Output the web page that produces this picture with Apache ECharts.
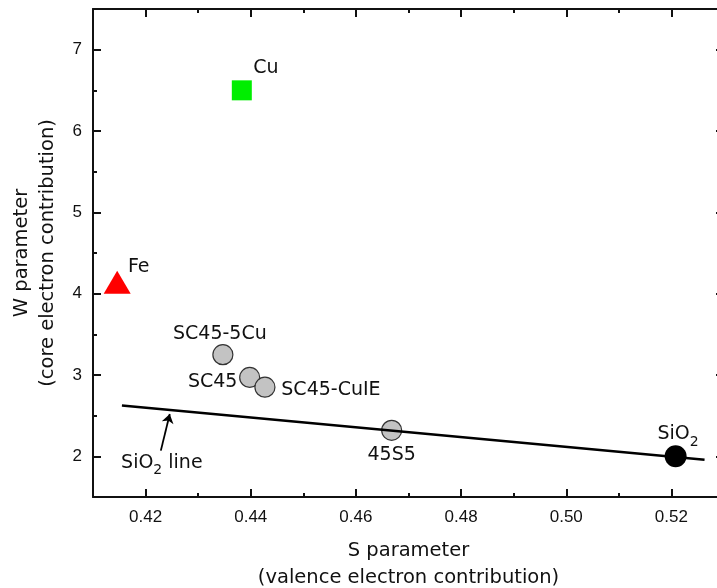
<!DOCTYPE html>
<html><head><meta charset="utf-8">
<script src="https://cdn.jsdelivr.net/npm/echarts@6/dist/echarts.min.js"></script>
<style>html,body{margin:0;padding:0;background:#fff}#c{width:717px;height:588px}</style>
</head><body><div id="c"></div>
<script>
// ---- data ----
const xRange = [0.41, 0.53];
const yRange = [1.5, 7.5];
const xMinorStep = 0.01;
const yMinorStep = 0.5;
const cuPoint = [0.4383, 6.50];
const fePoint = [0.4146, 4.14];
const glassNames = ['SC45-5Cu', 'SC45', 'SC45-CuIE', '45S5'];
const glassS = [0.4347, 0.4398, 0.4427, 0.4668];
const glassW = [3.25, 2.97, 2.85, 2.32];
const sio2Point = [0.5208, 2.00];
const sio2LineS = [0.4155, 0.5263];
const sio2LineW = [2.625, 1.957];
const arrowS = [0.4229, 0.4246];
const arrowW = [2.07, 2.52];

// ---- styling ----
const FONT = 'DejaVu Sans';
const TICKFONT = 'Liberation Sans';
const INK = '#111';
const glassLabelOffsets = {
  'SC45-5Cu': [-3, -21],
  'SC45': [-37, 5],
  'SC45-CuIE': [66, 2.5],
  '45S5': [0, 25]
};

function axisBase(extra) {
  return Object.assign({
    type: 'value', gridIndex: 0,
    splitLine: { show: false },
    axisLine: { show: true, onZero: false, lineStyle: { color: INK, width: 2 } },
    axisTick: { show: true, inside: true, length: 8, lineStyle: { color: INK, width: 2 } },
    axisLabel: { show: false }
  }, extra);
}
const xMajorLabel = {
  show: true, margin: 12, fontSize: 17, fontFamily: TICKFONT, color: INK,
  showMinLabel: false, showMaxLabel: false,
  formatter: v => v.toFixed(2)
};
const yMajorLabel = {
  show: true, margin: 11, fontSize: 17, fontFamily: TICKFONT, color: INK,
  showMinLabel: false, showMaxLabel: false,
  formatter: v => String(Math.round(v))
};
const minorTick = { show: true, inside: true, length: 4, lineStyle: { color: INK, width: 2 } };

const xAxes = [
  axisBase({ position: 'bottom', min: xRange[0], max: xRange[1], axisLabel: xMajorLabel,
    name: 'S parameter\n(valence electron contribution)', nameLocation: 'middle', nameGap: 40,
    nameTextStyle: { fontSize: 19.5, fontFamily: FONT, color: INK, lineHeight: 27 } }),
  axisBase({ position: 'bottom', min: xRange[0], max: xRange[1], interval: xMinorStep,
    axisLine: { show: false, onZero: false }, axisTick: minorTick }),
  axisBase({ position: 'top', min: xRange[0], max: xRange[1] }),
  axisBase({ position: 'top', min: xRange[0], max: xRange[1], interval: xMinorStep,
    axisLine: { show: false, onZero: false }, axisTick: minorTick })
];
const yAxes = [
  axisBase({ position: 'left', min: yRange[0], max: yRange[1], axisLabel: yMajorLabel,
    name: 'W parameter\n(core electron contribution)', nameLocation: 'middle', nameGap: 30, nameRotate: 90,
    nameTextStyle: { fontSize: 19.5, fontFamily: FONT, color: INK, lineHeight: 26.5 } }),
  axisBase({ position: 'left', min: yRange[0], max: yRange[1], interval: yMinorStep,
    axisLine: { show: false, onZero: false }, axisTick: minorTick }),
  axisBase({ position: 'right', min: yRange[0], max: yRange[1] }),
  axisBase({ position: 'right', min: yRange[0], max: yRange[1], interval: yMinorStep,
    axisLine: { show: false, onZero: false }, axisTick: minorTick })
];

const labelBase = { show: true, position: 'inside', fontSize: 19, fontFamily: FONT, color: INK, opacity: 1 };
const subRich = {
  m: { fontSize: 19, fontFamily: FONT, color: INK, lineHeight: 30 },
  s: { fontSize: 14, fontFamily: FONT, color: INK, lineHeight: 14, verticalAlign: 'bottom' }
};

const series = [
  {
    type: 'line', name: 'SiO2 line', z: 4, silent: true,
    data: sio2LineS.map((s, i) => [s, sio2LineW[i]]),
    showSymbol: false, symbol: 'none',
    lineStyle: { color: '#000', width: 2.5, opacity: 1 }
  },
  {
    type: 'lines', coordinateSystem: 'cartesian2d', z: 4, silent: true,
    data: [{ coords: arrowS.map((s, i) => [s, arrowW[i]]) }],
    symbol: ['none', 'arrow'], symbolSize: 9,
    lineStyle: { color: '#000', width: 1.8, opacity: 1, curveness: 0 }
  },
  {
    type: 'scatter', name: 'SiO2 line label', z: 4, silent: true,
    data: [[arrowS[0], arrowW[0]]], symbolSize: 0,
    itemStyle: { opacity: 1 },
    label: Object.assign({}, labelBase, { offset: [1, 12], formatter: '{m|SiO}{s|2}{m| line}', rich: subRich })
  },
  {
    type: 'scatter', name: 'Cu', z: 3,
    data: [cuPoint], symbol: 'rect', symbolSize: 20,
    itemStyle: { color: '#00ee00', opacity: 1 },
    label: Object.assign({}, labelBase, { offset: [24, -22.5], formatter: 'Cu' })
  },
  {
    type: 'scatter', name: 'Fe', z: 3,
    data: [fePoint], symbol: 'triangle', symbolSize: [27, 23],
    itemStyle: { color: '#ff0000', opacity: 1 },
    label: Object.assign({}, labelBase, { offset: [21.5, -15], formatter: 'Fe' })
  },
  {
    type: 'scatter', name: 'glasses', z: 3,
    data: glassNames.map((n, i) => ({
      name: n, value: [glassS[i], glassW[i]],
      label: { offset: glassLabelOffsets[n] }
    })),
    symbol: 'circle', symbolSize: 20,
    itemStyle: { color: '#c3c3c3', borderColor: '#333', borderWidth: 1.2, opacity: 1 },
    label: Object.assign({}, labelBase, { formatter: p => p.name })
  },
  {
    type: 'scatter', name: 'SiO2', z: 3,
    data: [sio2Point], symbol: 'circle', symbolSize: 22,
    itemStyle: { color: '#000', opacity: 1 },
    label: Object.assign({}, labelBase, { offset: [2.5, -22], formatter: '{m|SiO}{s|2}', rich: subRich })
  }
];

const chart = echarts.init(document.getElementById('c'), null, { renderer: 'canvas' });
chart.setOption({
  animation: false,
  backgroundColor: '#fff',
  grid: { left: 93, top: 9, width: 631, height: 488, containLabel: false, outerBoundsMode: 'none' },
  xAxis: xAxes,
  yAxis: yAxes,
  series: series
});
</script>
</body></html>
